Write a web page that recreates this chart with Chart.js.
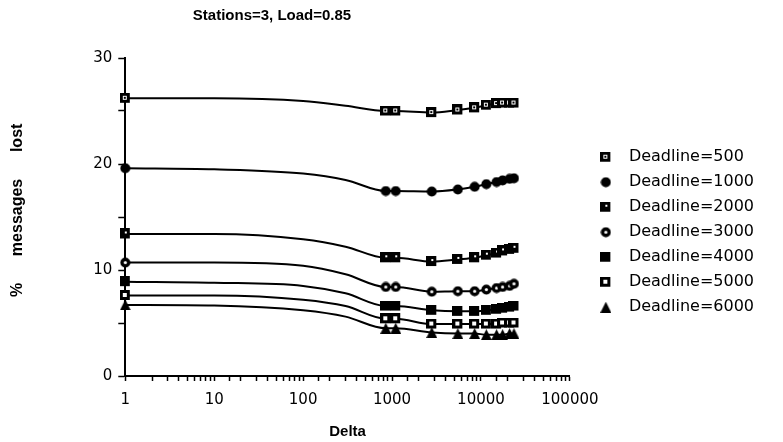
<!DOCTYPE html>
<html>
<head>
<meta charset="utf-8">
<script src="https://cdn.jsdelivr.net/npm/chart.js@4.4.1/dist/chart.umd.min.js"></script>
<style>
  html, body { margin: 0; padding: 0; background: #fff; }
  #wrap { width: 783px; height: 442px; }
</style>
</head>
<body>
<div id="wrap"><canvas id="lossChart" width="783" height="442"></canvas></div>
<script>
// Werte
var deltaValues = [1, 10, 100, 300, 850, 1100, 2800, 5500, 8500, 11500, 15000, 17500, 21000, 23500];
// Stellen, an denen nur die Kurve zu sehen ist (keine Marker)
var curveOnlyDelta = [10, 100, 300];

var seriesLabels = ['Deadline=500', 'Deadline=1000', 'Deadline=2000', 'Deadline=3000',
  'Deadline=4000', 'Deadline=5000', 'Deadline=6000'];

var lost500  = [26.2, 26.2, 25.95, 25.5, 25.0, 25.0, 24.85, 25.1, 25.3, 25.55, 25.7, 25.75, 25.75, 25.75];
var lost1000 = [19.6, 19.5, 19.1, 18.5, 17.45, 17.45, 17.4, 17.6, 17.85, 18.1, 18.3, 18.45, 18.6, 18.65];
var lost2000 = [13.4, 13.4, 12.9, 12.2, 11.15, 11.15, 10.8, 11.0, 11.15, 11.4, 11.6, 11.8, 11.95, 12.05];
var lost3000 = [10.7, 10.7, 10.4, 9.6, 8.4, 8.4, 7.95, 8.0, 8.0, 8.15, 8.3, 8.4, 8.5, 8.7];
var lost4000 = [8.9, 8.8, 8.5, 7.8, 6.6, 6.6, 6.2, 6.1, 6.1, 6.2, 6.3, 6.4, 6.5, 6.6];
var lost5000 = [7.6, 7.6, 7.2, 6.6, 5.4, 5.4, 4.9, 4.9, 4.9, 4.9, 4.9, 5.0, 5.0, 5.0];
var lost6000 = [6.7, 6.65, 6.2, 5.6, 4.5, 4.5, 4.1, 4.0, 4.0, 3.9, 3.9, 3.9, 4.0, 4.0];

var yTicks = [0, 10, 20, 30];
var xTicks = [1, 10, 100, 1000, 10000, 100000];

// Marker als kleine Canvas-Bilder
function makeMarker(draw) {
  var c = document.createElement('canvas');
  c.width = 11;
  c.height = 11;
  var g = c.getContext('2d');
  g.fillStyle = '#000';
  draw(g);
  return c;
}

var markers = [
  makeMarker(function (g) { // Quadrat offen mit Punkt
    g.fillRect(0, 0, 10, 10);
    g.fillStyle = '#fff'; g.fillRect(3, 3, 4, 4);
    g.fillStyle = '#000'; g.fillRect(4, 4, 2, 2);
  }),
  makeMarker(function (g) { // Kreis gefuellt
    g.beginPath(); g.arc(5.5, 5.5, 5, 0, Math.PI * 2); g.fill();
  }),
  makeMarker(function (g) { // Quadrat gefuellt mit hellem Punkt
    g.fillRect(0, 0, 10, 10);
    g.fillStyle = '#fff'; g.fillRect(5, 3, 2, 2);
  }),
  makeMarker(function (g) { // Kreis mit Punkt
    g.beginPath(); g.arc(5.5, 5.5, 5, 0, Math.PI * 2); g.fill();
    g.fillStyle = '#fff'; g.beginPath(); g.arc(5.5, 5.5, 1.6, 0, Math.PI * 2); g.fill();
  }),
  makeMarker(function (g) { // Quadrat voll
    g.fillRect(0, 0, 10, 10);
  }),
  makeMarker(function (g) { // Quadrat offen
    g.fillRect(0, 0, 10, 10);
    g.fillStyle = '#fff'; g.fillRect(3, 3, 4, 4);
  }),
  makeMarker(function (g) { // Dreieck
    g.beginPath(); g.moveTo(5.5, 0); g.lineTo(11, 11); g.lineTo(0, 11); g.closePath(); g.fill();
  })
];

var seriesValues = [lost500, lost1000, lost2000, lost3000, lost4000, lost5000, lost6000];

var datasets = seriesValues.map(function (vals, i) {
  return {
    label: seriesLabels[i],
    data: vals.map(function (v, k) { return { x: deltaValues[k], y: v }; }),
    borderColor: '#000',
    backgroundColor: '#000',
    borderWidth: 2,
    pointStyle: markers[i],
    pointRadius: function (ctx) {
      var p = ctx.raw;
      return p && curveOnlyDelta.indexOf(p.x) >= 0 ? 0 : 5;
    },
    cubicInterpolationMode: 'monotone',
    clip: false
  };
});

var titlePlugin = {
  id: 'plotTitle',
  afterDraw: function (chart) {
    var c = chart.ctx;
    c.save();
    c.fillStyle = '#000';
    c.font = 'bold 15px "Liberation Sans", Arial, sans-serif';
    c.textAlign = 'center';
    c.textBaseline = 'middle';
    c.fillText('Stations=3, Load=0.85', 272, 16);
    c.restore();
  }
};

new Chart(document.getElementById('lossChart'), {
  type: 'line',
  data: { datasets: datasets },
  plugins: [titlePlugin],
  options: {
    responsive: false,
    animation: false,
    layout: { padding: { top: 58, left: 8, right: 19, bottom: 1 } },
    plugins: {
      tooltip: { enabled: false },
      legend: {
        position: 'right',
        align: 'center',
        fullSize: false,
        maxWidth: 220,
        title: { display: true, text: ' ', padding: { top: 8, bottom: 8 } },
        labels: {
          usePointStyle: true,
          pointStyleWidth: 30,
          color: '#000',
          padding: 9,
          font: { family: '"DejaVu Sans", sans-serif', size: 16 }
        }
      }
    },
    scales: {
      x: {
        type: 'logarithmic',
        min: 1,
        max: 100000,
        border: { color: '#000', width: 2 },
        grid: { drawOnChartArea: false, color: '#000', tickLength: 5, tickWidth: 1.5 },
        ticks: {
          autoSkip: false,
          maxRotation: 0,
          padding: 10,
          color: '#000',
          font: { family: '"DejaVu Sans", sans-serif', size: 15 },
          callback: function (v) {
            return xTicks.indexOf(v) >= 0 ? String(v) : '';
          }
        },
        title: {
          display: true,
          text: 'Delta',
          color: '#000',
          font: { family: '"Liberation Sans", Arial, sans-serif', size: 15, weight: 'bold' },
          padding: { top: 4, bottom: 0 }
        }
      },
      y: {
        min: 0,
        max: 30,
        border: { color: '#000', width: 2 },
        grid: { drawOnChartArea: false, color: '#000', tickLength: 7, tickWidth: 1.5 },
        ticks: {
          stepSize: 5,
          color: '#000',
          padding: 6,
          font: { family: '"DejaVu Sans", sans-serif', size: 15 },
          callback: function (v) {
            return yTicks.indexOf(v) >= 0 ? String(v) : '';
          }
        },
        title: {
          display: true,
          text: '   %      messages      lost',
          color: '#000',
          font: { family: '"Liberation Sans", Arial, sans-serif', size: 16, weight: 'bold' },
          padding: { top: 0, bottom: 60 }
        }
      },
      // leere Achse als Abstand zwischen Diagramm und Legende
      gap: {
        position: 'right',
        display: true,
        ticks: { display: false },
        grid: { display: false },
        border: { display: false },
        afterFit: function (scale) { scale.width = 12; }
      }
    }
  }
});
</script>
</body>
</html>
